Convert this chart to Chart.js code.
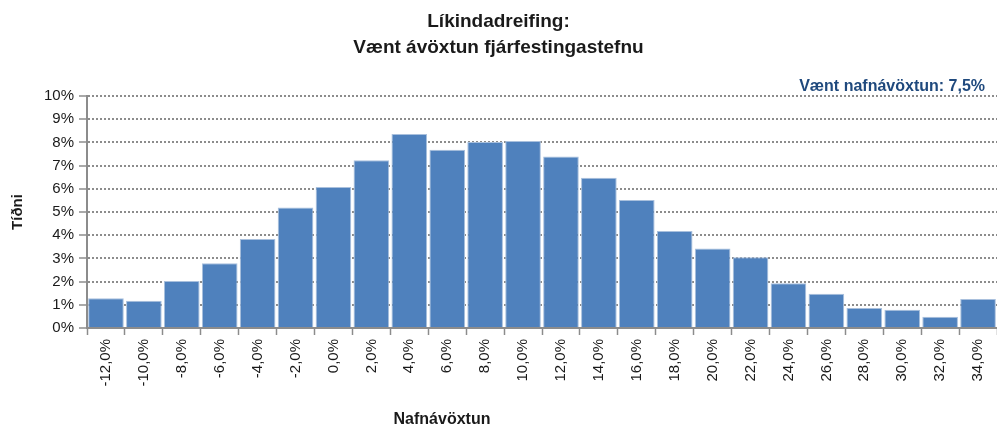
<!DOCTYPE html>
<html lang="is">
<head>
<meta charset="utf-8">
<title>Líkindadreifing</title>
<script src="https://cdn.jsdelivr.net/npm/chart.js@4.4.1/dist/chart.umd.min.js"></script>
<style>
    html, body { margin: 0; padding: 0; background: #ffffff; }
    #wrap { width: 997px; height: 427px; }
</style>
</head>
<body>
<div id="wrap">
    <canvas id="distChart" width="997" height="427"></canvas>
</div>
<script>
// Flokkar (nafnávöxtun) og tíðni í %
const returnLabels = ['-12,0%', '-10,0%', '-8,0%', '-6,0%', '-4,0%', '-2,0%', '0,0%', '2,0%',
    '4,0%', '6,0%', '8,0%', '10,0%', '12,0%', '14,0%', '16,0%', '18,0%',
    '20,0%', '22,0%', '24,0%', '26,0%', '28,0%', '30,0%', '32,0%', '34,0%'];
const frequency = [1.28, 1.18, 2.03, 2.79, 3.84, 5.19, 6.08, 7.23,
    8.36, 7.69, 8.02, 8.06, 7.39, 6.48, 5.52, 4.18,
    3.43, 3.05, 1.93, 1.48, 0.86, 0.79, 0.49, 1.25];
const titleLines = ['Líkindadreifing:', 'Vænt ávöxtun fjárfestingastefnu'];
const expectedLabel = 'Vænt nafnávöxtun: 7,5%';
const xTitle = 'Nafnávöxtun';
const yTitle = 'Tíðni';

const fontFamily = '"Liberation Sans", Arial, sans-serif';

// Texti sem er teiknaður beint á canvas (væntanleg ávöxtun og x-ás titill)
const extraText = {
    id: 'extraText',
    afterDraw(chart) {
        const ctx = chart.ctx;
        ctx.save();
        ctx.font = 'bold 16px ' + fontFamily;
        ctx.fillStyle = '#1F497D';
        ctx.textAlign = 'right';
        ctx.textBaseline = 'middle';
        ctx.fillText(expectedLabel, 985, 87);

        ctx.font = 'bold 16px ' + fontFamily;
        ctx.fillStyle = '#1a1a1a';
        ctx.textAlign = 'center';
        ctx.fillText(xTitle, 442, 420);
        ctx.restore();
    }
};

const ctx = document.getElementById('distChart').getContext('2d');
new Chart(ctx, {
    type: 'bar',
    data: {
        labels: returnLabels,
        datasets: [{
            label: yTitle,
            data: frequency,
            backgroundColor: '#4F81BD',
            borderColor: '#a9c0dd',
            borderWidth: 1,
            categoryPercentage: 1.0,
            barPercentage: 0.94
        }]
    },
    options: {
        responsive: false,
        animation: false,
        layout: { padding: 0 },
        plugins: {
            legend: { display: false },
            tooltip: { enabled: false },
            title: {
                display: true,
                text: titleLines,
                color: '#1a1a1a',
                font: { family: fontFamily, size: 19, weight: 'bold', lineHeight: 1.37 },
                padding: { top: 9, bottom: 35 }
            }
        },
        scales: {
            x: {
                grid: {
                    offset: true,
                    drawOnChartArea: false,
                    drawTicks: true,
                    tickLength: 7,
                    tickColor: '#8c8c8c',
                    tickWidth: 1.5
                },
                border: { display: true, color: '#8c8c8c', width: 2 },
                ticks: {
                    color: '#1a1a1a',
                    font: { family: fontFamily, size: 15 },
                    minRotation: 90,
                    maxRotation: 90,
                    padding: 4,
                    autoSkip: false
                },
                afterFit(scale) {
                    scale.height = 99;
                    scale.paddingLeft = 0;
                    scale.paddingRight = 0;
                }
            },
            y: {
                min: 0,
                max: 10,
                grid: {
                    color: '#8c8c8c',
                    lineWidth: 2,
                    drawTicks: true,
                    tickLength: 8,
                    tickColor: '#8c8c8c',
                    tickWidth: 1.5,
                    tickBorderDash: []
                },
                border: { display: true, color: '#8c8c8c', width: 2, dash: [2, 2] },
                ticks: {
                    stepSize: 1,
                    color: '#1a1a1a',
                    font: { family: fontFamily, size: 15 },
                    padding: 5,
                    callback: (v) => v + '%'
                },
                title: {
                    display: true,
                    text: yTitle,
                    color: '#1a1a1a',
                    font: { family: fontFamily, size: 15, weight: 'bold' },
                    padding: { top: 9, bottom: 0 }
                },
                afterFit(scale) { scale.width = 87; }
            }
        }
    },
    plugins: [extraText]
});
</script>
</body>
</html>
